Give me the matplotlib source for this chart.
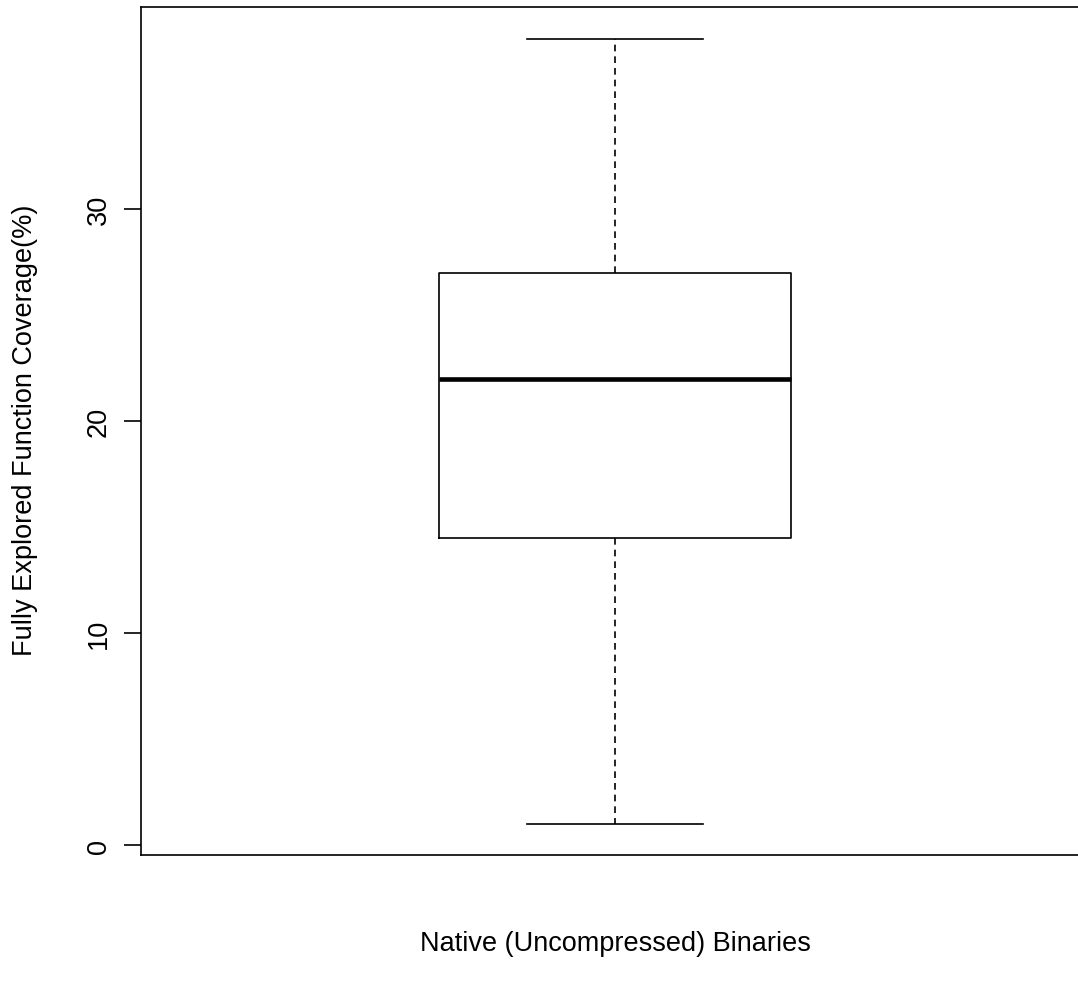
import matplotlib
matplotlib.use("Agg")
import matplotlib.pyplot as plt

plt.rcParams['font.family'] = ['Liberation Sans', 'DejaVu Sans']

# box statistics
label = 'Native (Uncompressed) Binaries'
ylab = 'Fully Explored Function Coverage(%)'
whislo = 1.0
q1 = 14.5
med = 22.0
q3 = 27.0
whishi = 38.0
yticks = [0, 10, 20, 30]

fig = plt.figure(figsize=(10.78, 9.87), dpi=100)
ax = fig.add_axes([141 / 1078, 131 / 987, 948 / 1078, 848 / 987])

stats = [{'whislo': whislo, 'q1': q1, 'med': med, 'q3': q3, 'whishi': whishi, 'fliers': []}]
ax.bxp(stats, positions=[1], widths=0.371, showfliers=False,
       boxprops=dict(color='black', linewidth=1.2),
       medianprops=dict(color='black', linewidth=3.3),
       whiskerprops=dict(color='black', linewidth=1.2, linestyle=(0, (4, 3))),
       capprops=dict(color='black', linewidth=1.2),
       capwidths=0.186)

ax.set_xlim(0.5, 1.5)
ax.set_ylim(-0.47, 39.53)
ax.set_xticks([])
ax.set_yticks(yticks)
ax.set_yticklabels([str(t) for t in yticks], rotation=90, va='center', fontsize=19.5)
ax.tick_params(axis='y', length=12, width=1.2, pad=9)
for s in ax.spines.values():
    s.set_linewidth(1.2)

fig.text(25 / 1078, 1 - 430 / 987, ylab, rotation=90, ha='center', va='center', fontsize=19.5)
fig.text(615 / 1078, 1 - 944 / 987, label, ha='center', va='center', fontsize=19.5)

fig.savefig('out.png', dpi=100)
